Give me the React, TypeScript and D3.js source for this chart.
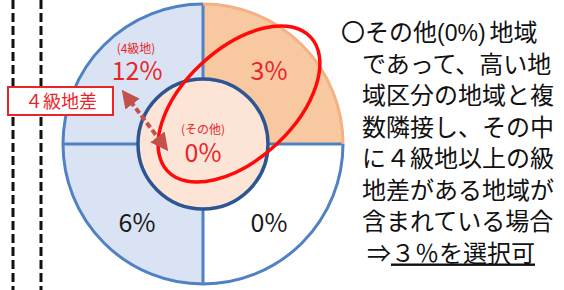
import React, { useEffect, useRef } from 'react';
import * as d3 from 'd3';

// quadrant data (clockwise from top-left)
const quadrantNames = ['4級地', '高い地域', '低い地域', '同級地'];
const quadrantWeights = [1, 1, 1, 1];
const quadrantLabels = ['12%', '3%', '0%', '6%'];
const quadrantSubLabels = ['(4級地)', '', '', ''];
const quadrantFills = ['#dae3f3', '#f8c8a0', '#ffffff', '#dae3f3'];
const quadrantArcStroke = ['#4f81c4', '#f4b183', '#4f81c4', '#4f81c4'];
const quadrantTextColor = ['#e8262a', '#e8262a', '#1a1a1a', '#1a1a1a'];

const centerSubLabel = '(その他)';
const centerLabel = '0%';
const diffLabel = '４級地差';

const noteLines = [
  'であって、高い地',
  '域区分の地域と複',
  '数隣接し、その中',
  'に４級地以上の級',
  '地差がある地域が',
  '含まれている場合',
];

const W = 564;
const H = 290;
const FONT = '"Noto Sans CJK JP", "Noto Sans", sans-serif';

export default function App() {
  const svgRef = useRef<SVGSVGElement>(null);

  useEffect(() => {
    const svg = d3.select(svgRef.current);
    svg.selectAll('*').remove();

    const cx = 203, cy = 144;
    const R = 140, r = 65;

    // dashed guide lines on the left
    [13, 41].forEach((x) => {
      svg.append('line')
        .attr('x1', x).attr('x2', x).attr('y1', 0).attr('y2', H)
        .attr('stroke', '#111').attr('stroke-width', 3)
        .attr('stroke-dasharray', '9 4');
    });

    const g = svg.append('g').attr('transform', `translate(${cx},${cy})`);

    const pie = d3.pie<number>().sort(null).startAngle(-Math.PI / 2).endAngle(Math.PI * 1.5);
    const slices = pie(quadrantWeights);
    const sector = d3.arc<d3.PieArcDatum<number>>().innerRadius(r).outerRadius(R);
    const outer = d3.arc<d3.PieArcDatum<number>>().innerRadius(R).outerRadius(R);

    g.selectAll('.sector')
      .data(slices)
      .join('path')
      .attr('class', 'sector')
      .attr('d', sector)
      .attr('fill', (d, i) => quadrantFills[i]);

    // divider lines
    slices.forEach((d) => {
      const a = d.startAngle;
      g.append('line')
        .attr('x1', 0).attr('y1', 0)
        .attr('x2', Math.sin(a) * R).attr('y2', -Math.cos(a) * R)
        .attr('stroke', '#4f81c4').attr('stroke-width', 3);
    });

    g.selectAll('.rim')
      .data(slices)
      .join('path')
      .attr('class', 'rim')
      .attr('d', outer)
      .attr('fill', 'none')
      .attr('stroke', (d, i) => quadrantArcStroke[i])
      .attr('stroke-width', 3);

    // inner circle
    g.append('circle')
      .attr('r', r)
      .attr('fill', '#fce5d7')
      .attr('stroke', '#2c5592')
      .attr('stroke-width', 3.5);

    // quadrant labels
    slices.forEach((d, i) => {
      const [x, y] = sector.centroid(d);
      const lx = x * 0.91;
      const ly = y + (y < 0 ? 8 : 15.5);
      g.append('text')
        .attr('x', lx).attr('y', ly)
        .attr('text-anchor', 'middle')
        .attr('font-family', FONT)
        .attr('font-size', 25)
        .attr('fill', quadrantTextColor[i])
        .text(quadrantLabels[i]);
      if (quadrantSubLabels[i] !== '') {
        g.append('text')
          .attr('x', lx - 1).attr('y', ly - 27)
          .attr('text-anchor', 'middle')
          .attr('font-family', FONT)
          .attr('font-size', 12)
          .attr('fill', quadrantTextColor[i])
          .text(quadrantSubLabels[i]);
      }
    });

    g.append('text')
      .attr('x', 0).attr('y', -10)
      .attr('text-anchor', 'middle')
      .attr('font-family', FONT).attr('font-size', 12)
      .attr('fill', '#e8262a')
      .text(centerSubLabel);
    g.append('text')
      .attr('x', 0).attr('y', 18)
      .attr('text-anchor', 'middle')
      .attr('font-family', FONT).attr('font-size', 25)
      .attr('fill', '#e8262a')
      .text(centerLabel);

    // red ellipse
    g.append('ellipse')
      .attr('transform', `translate(${239 - cx},${104 - cy}) rotate(-43)`)
      .attr('rx', 98).attr('ry', 55)
      .attr('fill', 'none')
      .attr('stroke', '#ff0a0a')
      .attr('stroke-width', 3.5);

    // double arrow
    const defs = svg.append('defs');
    defs.append('marker')
      .attr('id', 'ah')
      .attr('viewBox', '0 0 10 10')
      .attr('refX', 7).attr('refY', 5)
      .attr('markerWidth', 4.5).attr('markerHeight', 4.5)
      .attr('markerUnits', 'strokeWidth')
      .attr('orient', 'auto-start-reverse')
      .append('path')
      .attr('d', 'M0,0 L10,5 L0,10 Z')
      .attr('fill', '#c4504c');
    svg.append('line')
      .attr('x1', 125).attr('y1', 94).attr('x2', 165).attr('y2', 147)
      .attr('stroke', '#c4504c').attr('stroke-width', 4)
      .attr('stroke-dasharray', '6 3')
      .attr('marker-start', 'url(#ah)')
      .attr('marker-end', 'url(#ah)');

    // label box
    svg.append('rect')
      .attr('x', 8).attr('y', 87).attr('width', 105).attr('height', 28)
      .attr('fill', '#fff').attr('stroke', '#e8262a').attr('stroke-width', 2);
    svg.append('text')
      .attr('x', 61).attr('y', 108)
      .attr('text-anchor', 'middle')
      .attr('font-family', FONT).attr('font-size', 18)
      .attr('fill', '#e8262a')
      .text(diffLabel);

    // note text
    const note = svg.append('g').attr('font-family', FONT).attr('font-size', 24).attr('fill', '#111');
    const first = note.append('text').attr('x', 341).attr('y', 41);
    first.append('tspan').text('〇その他');
    first.append('tspan').attr('font-size', 23).attr('font-family', '"Liberation Sans Narrow", "Liberation Sans", sans-serif').text('(0%)');
    first.append('tspan').attr('dx', 4).text('地域');

    noteLines.forEach((t, i) => {
      note.append('text')
        .attr('x', 362).attr('y', 41 + (i + 1) * 31.5)
        .text(t);
    });
    const last = note.append('text').attr('x', 367).attr('y', 41 + 7 * 31.5);
    last.append('tspan').text('⇒');
    last.append('tspan').attr('text-decoration', 'underline').text('３％を選択可');
  }, []);

  return (
    <svg
      ref={svgRef}
      width={W}
      height={H}
      style={{ position: 'absolute', left: 0, top: 0, background: '#fff' }}
    />
  );
}
